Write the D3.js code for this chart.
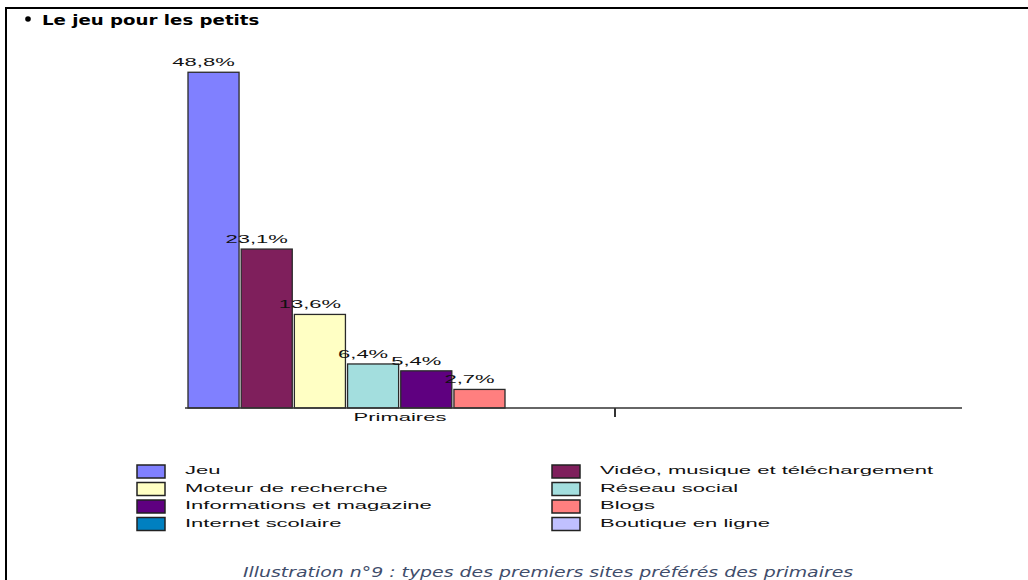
<!DOCTYPE html>
<meta charset="utf-8">
<script src="https://d3js.org/d3.v7.min.js"></script>
<style>
  body { margin: 0; background: #fff; }
</style>
<div id="chart"></div>
<script>

// data
var categories = ["Jeu", "Vidéo, musique et téléchargement", "Moteur de recherche", "Réseau social",
                  "Informations et magazine", "Blogs", "Internet scolaire", "Boutique en ligne"];
var values = [48.8, 23.1, 13.6, 6.4, 5.4, 2.7, null, null];
var colors = ["#8080ff", "#7f1f5c", "#ffffc4", "#a3dede", "#5f0080", "#ff7f7f", "#0080c0", "#c0c0ff"];
var groups = ["Primaires", ""];
var title = "Le jeu pour les petits";
var caption = "Illustration n°9 : types des premiers sites préférés des primaires";

var W = 1028, H = 580;
var svg = d3.select("#chart").append("svg")
    .attr("width", W)
    .attr("height", H);

// frame (top and left only)
svg.append("line").attr("x1", 6).attr("x2", W).attr("y1", 8).attr("y2", 8)
  .attr("stroke", "#000").attr("stroke-width", 2);
svg.append("line").attr("x1", 6).attr("x2", 6).attr("y1", 7).attr("y2", H)
  .attr("stroke", "#000").attr("stroke-width", 2);

// title (the page is stretched a little horizontally)
svg.append("circle").attr("cx", 28).attr("cy", 19).attr("r", 2.8).attr("fill", "#000");
svg.append("g").attr("transform", "translate(42,25) scale(1.3,1)")
  .append("text")
    .attr("font-family", "DejaVu Sans, Verdana, sans-serif")
    .attr("font-weight", "bold")
    .attr("font-size", 14)
    .attr("fill", "#000")
    .text(title);

// the text in the chart is stretched more
function stretched(g, x, y) {
  return g.append("g").attr("transform", "translate(" + x + "," + y + ") scale(2,1)")
    .append("text")
      .attr("font-family", "Liberation Sans, Arial, sans-serif")
      .attr("font-size", 11)
      .attr("fill", "#111");
}

// scales
var baseY = 408;
var y = d3.scaleLinear().domain([0, 50]).range([baseY, baseY - 344]);
var x = d3.scaleBand().domain(groups).range([185, 1045]);
var bars = categories.filter(function(d, i) { return values[i] != null; });
var xs = d3.scaleBand().domain(bars).range([3, 320]).paddingInner(0.04);

var plot = svg.append("g");

// bars
plot.selectAll("rect.bar")
  .data(bars)
  .enter()
  .append("rect")
    .attr("class", "bar")
    .attr("x", function(d) { return x("Primaires") + xs(d); })
    .attr("y", function(d) { return y(values[categories.indexOf(d)]); })
    .attr("width", xs.bandwidth())
    .attr("height", function(d) { return baseY - y(values[categories.indexOf(d)]); })
    .attr("fill", function(d) { return colors[categories.indexOf(d)]; })
    .attr("stroke", "#2a2a2a")
    .attr("stroke-width", 1.3);

// value labels
bars.forEach(function(d) {
  var v = values[categories.indexOf(d)];
  var cx = x("Primaires") + xs(d) + xs.bandwidth() / 2 - 10;
  stretched(plot, cx, y(v) - 6)
    .attr("text-anchor", "middle")
    .text(d3.format(".1f")(v).replace(".", ",") + "%");
});

// x axis
plot.append("line")
  .attr("x1", x.range()[0]).attr("x2", 962)
  .attr("y1", baseY).attr("y2", baseY)
  .attr("stroke", "#333").attr("stroke-width", 1.5);
plot.append("line")
  .attr("x1", x(groups[1])).attr("x2", x(groups[1]))
  .attr("y1", baseY).attr("y2", baseY + 9)
  .attr("stroke", "#333").attr("stroke-width", 2);
stretched(plot, x("Primaires") + x.bandwidth() / 2, baseY + 13)
  .attr("text-anchor", "middle")
  .text("Primaires");

// legend
var legend = svg.append("g");
categories.forEach(function(d, i) {
  var col = i % 2, row = Math.floor(i / 2);
  var lx = col === 0 ? 137 : 552;
  var ly = 465 + row * 17.5;
  legend.append("rect")
    .attr("x", lx).attr("y", ly)
    .attr("width", 28).attr("height", 13)
    .attr("fill", colors[i])
    .attr("stroke", "#222").attr("stroke-width", 1.5);
  stretched(legend, lx + 48, ly + 9)
    .text(d);
});

// caption
svg.append("g").attr("transform", "translate(548,577) scale(1.35,1)")
  .append("text")
    .attr("text-anchor", "middle")
    .attr("font-family", "DejaVu Sans, Verdana, sans-serif")
    .attr("font-style", "italic")
    .attr("font-size", 14)
    .attr("fill", "#3f4d6b")
    .text(caption);

</script>
